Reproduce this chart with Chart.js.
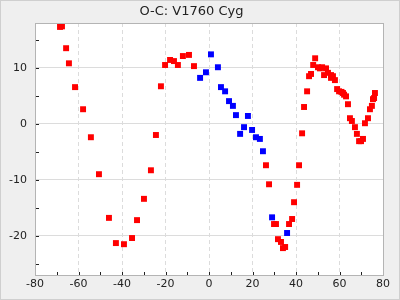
<!DOCTYPE html>
<html>
<head>
<meta charset="utf-8">
<script src="https://cdn.jsdelivr.net/npm/chart.js@4"></script>
<style>
  html, body { margin: 0; padding: 0; background: #efefef; }
  #wrap { width: 400px; height: 300px; }
</style>
</head>
<body>
<div id="wrap"><canvas id="oc"></canvas></div>
<script>
// 赤：第1群の観測
const redX = [-68.5, -67.6, -65.7, -64.4, -61.6, -57.9, -54.3, -50.6, -46.0, -42.8, -39.1, -35.4,
  -33.1, -29.9, -26.7, -24.4, -22.1, -20.2, -17.9, -16.1, -14.3, -12.0, -9.2, -6.9,
  26.2, 27.6, 29.9, 30.8, 31.7, 33.1, 34.0, 35.0, 36.8, 38.2, 39.1, 40.5, 41.4, 42.8,
  43.7, 45.1, 46.0, 46.9, 47.9, 48.8, 50.1, 51.0, 52.0, 52.9, 53.8, 54.7, 56.1, 56.1,
  57.0, 57.9, 58.9, 59.8, 60.9, 61.6, 62.1, 63.0, 63.9, 64.8, 65.7, 67.1, 68.0, 69.0,
  69.9, 70.8, 71.7, 73.1, 74.0, 74.9, 75.4, 75.9, 76.3];
const redY = [17.3, 17.4, 13.5, 10.8, 6.55, 2.6, -2.4, -9.0, -16.8, -21.3, -21.5, -20.4,
  -17.2, -13.4, -8.3, -2.0, 6.7, 10.5, 11.4, 11.2, 10.5, 12.1, 12.3, 10.3,
  -7.4, -10.8, -17.9, -17.9, -20.6, -21.1, -22.2, -22.0, -17.9, -17.0, -14.0, -10.9, -7.4, -1.7,
  3.0, 5.8, 8.5, 8.9, 10.5, 11.7, 10.1, 9.9, 10.1, 8.7, 9.9, 9.1, 8.7, 8.2,
  8.5, 7.8, 6.2, 5.8, 5.7, 5.5, 5.2, 4.9, 3.5, 1.0, 0.5, -0.6, -1.8, -3.1,
  -3.1, -2.7, 0.1, 1.0, 2.6, 3.2, 4.4, 4.6, 5.5];
// 青：第2群の観測
const blueX = [-4.1, -1.4, 0.9, 4.1, 5.5, 7.4, 9.2, 11.0, 12.4, 14.3, 16.1, 17.9, 19.8, 21.6, 23.4, 24.8, 29.0, 35.9];
const blueY = [8.2, 9.2, 12.4, 10.1, 6.55, 5.8, 4.05, 3.2, 1.55, -1.8, -0.6, 1.4, -1.1, -2.4, -2.7, -4.9, -16.7, -19.5];

const titleText = 'O-C: V1760 Cyg';
const xTicks = [-80, -60, -40, -20, 0, 20, 40, 60, 80];
const yTicks = [-20, -10, 0, 10];
const xMinor = 10;
const yMinor = 5;

const toPoints = (xs, ys) => xs.map((x, i) => ({ x, y: ys[i] }));

// 背景・枠・内向きの目盛り
const framePlugin = {
  id: 'frame',
  beforeDraw(chart) {
    const { ctx, chartArea: a } = chart;
    ctx.save();
    ctx.fillStyle = '#efefef';
    ctx.fillRect(0, 0, chart.width, chart.height);
    ctx.strokeStyle = '#cfcfcf';
    ctx.lineWidth = 1;
    ctx.strokeRect(0.5, 0.5, chart.width - 1, chart.height - 1);
    ctx.fillStyle = '#ffffff';
    ctx.fillRect(a.left, a.top, a.right - a.left, a.bottom - a.top);
    ctx.restore();
  },
  afterDraw(chart) {
    const { ctx, chartArea: a, scales } = chart;
    ctx.save();
    ctx.strokeStyle = '#222';
    ctx.lineWidth = 1;
    ctx.beginPath();
    for (let v = scales.x.min; v <= scales.x.max; v += xMinor) {
      const px = Math.round(scales.x.getPixelForValue(v)) + 0.5;
      ctx.moveTo(px, a.bottom);
      ctx.lineTo(px, a.bottom - 3);
    }
    for (let v = Math.ceil(scales.y.min / yMinor) * yMinor; v <= scales.y.max; v += yMinor) {
      const py = Math.round(scales.y.getPixelForValue(v)) + 0.5;
      ctx.moveTo(a.left, py);
      ctx.lineTo(a.left + 4, py);
    }
    ctx.stroke();
    ctx.strokeStyle = '#b4b4b4';
    ctx.strokeRect(Math.round(a.left) + 0.5, Math.round(a.top) + 0.5,
      Math.round(a.right - a.left), Math.round(a.bottom - a.top));
    ctx.restore();
  }
};

const font = { family: 'DejaVu Sans', size: 11 };

new Chart(document.getElementById('oc'), {
  type: 'scatter',
  data: {
    datasets: [
      { label: 'red', data: toPoints(redX, redY), backgroundColor: '#ff0000', borderColor: '#ff0000', borderWidth: 0, pointStyle: 'rect', pointRadius: 4.2 },
      { label: 'blue', data: toPoints(blueX, blueY), backgroundColor: '#0000ff', borderColor: '#0000ff', borderWidth: 0, pointStyle: 'rect', pointRadius: 4.2 }
    ]
  },
  options: {
    responsive: true,
    maintainAspectRatio: false,
    animation: false,
    layout: { padding: { left: 0, right: 17, top: 0, bottom: 0 } },
    plugins: {
      legend: { display: false },
      tooltip: { enabled: false },
      title: {
        display: true,
        text: titleText,
        color: '#222',
        font: { family: 'DejaVu Sans', size: 13, weight: 'normal' },
        padding: { top: 4, bottom: 3.4 }
      }
    },
    scales: {
      x: {
        type: 'linear',
        min: -80,
        max: 80,
        afterBuildTicks: s => { s.ticks = xTicks.map(v => ({ value: v })); },
        afterFit: s => { s.height = 25; },
        ticks: { color: '#222', font, padding: 3, maxRotation: 0 },
        grid: {
          drawTicks: false,
          color: c => (c.tick && (c.tick.value === -80 || c.tick.value === 80)) ? 'rgba(0,0,0,0)' : '#dcdcdc'
        },
        border: { display: false, dash: [4, 3] }
      },
      y: {
        type: 'linear',
        min: -27,
        max: 18,
        afterBuildTicks: s => { s.ticks = yTicks.map(v => ({ value: v })); },
        afterFit: s => { s.width = 35; },
        ticks: { color: '#222', font, padding: 8 },
        grid: { drawTicks: false, color: '#dcdcdc' },
        border: { display: false }
      }
    }
  },
  plugins: [framePlugin]
});
</script>
</body>
</html>
